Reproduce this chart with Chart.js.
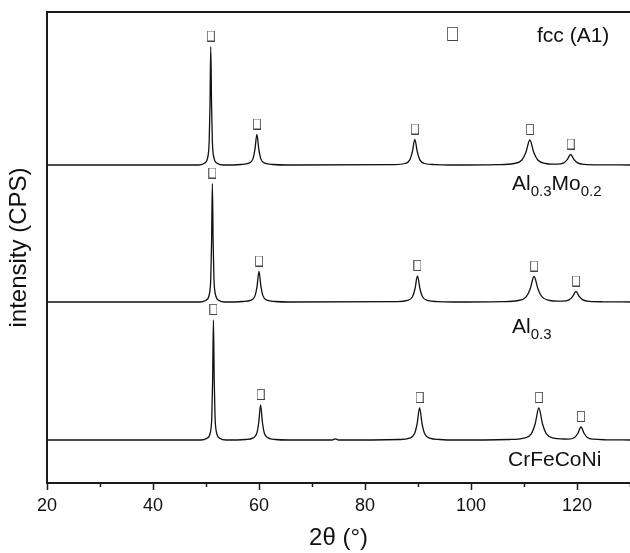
<!DOCTYPE html>
<html>
<head>
<meta charset="utf-8">
<script src="https://cdn.jsdelivr.net/npm/chart.js@4.4.1/dist/chart.umd.min.js"></script>
<style>
  html, body { margin: 0; padding: 0; background: #fff; }
  #wrap { width: 630px; height: 553px; }
</style>
</head>
<body>
<div id="wrap"><canvas id="xrd" width="630" height="553"></canvas></div>
<script>
// XRD patterns, [2θ (°), intensity above own baseline]
const patternMo = [
  [20,0],[48.5,0],[49.7,1.8],[50.3,7.1],[50.6,23.7],[50.75,59.3],[50.9,118.5],[51.05,59.3],[51.2,23.7],[51.5,7.1],[52.1,1.8],[53.3,0],
  [56.6,0.5],[58.1,1.8],[58.85,6.1],[59.225,15.3],[59.6,30.5],[59.975,15.3],[60.35,6.1],[61.1,1.8],[62.6,0.5],[65,0],
  [85.6,0.4],[87.5,1.5],[88.45,5.1],[88.925,12.8],[89.4,25.5],[89.875,12.8],[90.35,5.1],[91.3,1.5],[93.2,0.4],[96,0],
  [105.1,0.4],[108.1,1.5],[109.6,5],[110.35,12.5],[111.1,25],[111.85,12.5],[112.6,5],[114.1,1.5],[115.2,0.8],
  [116.2,0.8],[117.5,2.1],[118.15,5.3],[118.8,10.5],[119.45,5.3],[120.1,2.1],[121.4,0.6],[124,0.2],[130,0]
];
const patternAl = [
  [20,0],[48.8,0],[50,1.8],[50.6,7.1],[50.9,23.7],[51.05,59.3],[51.2,118.5],[51.35,59.3],[51.5,23.7],[51.8,7.1],[52.4,1.8],[53.6,0],
  [57,0.5],[58.5,1.8],[59.25,6.1],[59.625,15.3],[60,30.5],[60.375,15.3],[60.75,6.1],[61.5,1.8],[63,0.5],[65.5,0],
  [86.1,0.4],[88,1.6],[88.95,5.2],[89.425,13],[89.9,26],[90.375,13],[90.85,5.2],[91.8,1.6],[93.7,0.4],[96.5,0],
  [105.9,0.4],[108.9,1.5],[110.4,5.1],[111.15,12.8],[111.9,25.5],[112.65,12.8],[113.4,5.1],[114.9,1.5],[116.3,0.8],
  [117.2,0.8],[118.5,2.1],[119.15,5.3],[119.8,10.5],[120.45,5.3],[121.1,2.1],[122.4,0.6],[125,0.2],[130,0]
];
const patternNi = [
  [20,0],[49,0],[50.2,1.8],[50.8,7.2],[51.1,24],[51.25,60],[51.4,120],[51.55,60],[51.7,24],[52,7.2],[52.6,1.8],[53.8,0],
  [57.5,0.5],[58.9,2.1],[59.6,7],[59.95,17.5],[60.3,35],[60.65,17.5],[61,7],[61.7,2.1],[63.1,0.5],[65.5,0],
  [73.8,0],[74.4,1.2],[75,0],
  [86.5,0.5],[88.4,1.9],[89.35,6.4],[89.825,16],[90.3,32],[90.775,16],[91.25,6.4],[92.2,1.9],[94.1,0.5],[97,0],
  [107.2,0.5],[110,1.9],[111.4,6.4],[112.1,16],[112.8,32],[113.5,16],[114.2,6.4],[115.6,1.9],[117.4,1],
  [118.35,0.9],[119.55,2.6],[120.15,6.5],[120.75,13],[121.35,6.5],[121.95,2.6],[123.15,0.8],[125.55,0.2],[130,0]
];

// fcc (A1) reflections marked on each pattern
const peaksMo = [50.9, 59.6, 89.4, 111.1, 118.8];
const peaksAl = [51.2, 60, 89.9, 111.9, 119.8];
const peaksNi = [51.4, 60.3, 90.3, 112.8, 120.75];

// vertical stacking of the three patterns (top -> bottom)
const patterns = [patternMo, patternAl, patternNi];
const peakSets = [peaksMo, peaksAl, peaksNi];
const stackOffset = [275, 138, 0];

const xTicksShown = [20, 40, 60, 80, 100, 120];
const FONT = "'Liberation Sans', Arial, Helvetica, sans-serif";
const MARK_GAP = 10.5;

// the little "tofu" square used as the fcc marker
function boxGlyph(w, h) {
  const c = document.createElement('canvas');
  c.width = w; c.height = h;
  const g = c.getContext('2d');
  g.strokeStyle = '#6a6a6a';
  g.lineWidth = 1;
  g.strokeRect(0.5, 0.5, w - 1, h - 1);
  g.fillStyle = '#444';
  g.fillRect(1, h - 1, w - 1, 1);
  return c;
}
const markGlyph = boxGlyph(8, 11);
const legendGlyph = boxGlyph(11, 14);

const lineSets = patterns.map((pat, i) => ({
  data: pat.map(p => ({ x: p[0], y: p[1] + stackOffset[i] })),
  borderColor: '#111',
  borderWidth: 1.3,
  pointRadius: 0,
  fill: false,
  cubicInterpolationMode: 'monotone'
}));

const markData = [];
peakSets.forEach((peaks, i) => {
  peaks.forEach(t => {
    const top = patterns[i].find(p => p[0] === t)[1];
    markData.push({ x: t, y: top + stackOffset[i] + MARK_GAP });
  });
});

const markSet = {
  label: 'fcc (A1)',
  data: markData,
  showLine: false,
  pointStyle: markGlyph,
  pointRadius: 5,
  borderWidth: 0
};

// sample names, drawn with subscripts
const sampleLabels = [
  [['Al', 0], ['0.3', 1], ['Mo', 0], ['0.2', 1]],
  [['Al', 0], ['0.3', 1]],
  [['CrFeCoNi', 0]]
];
const labelPos = [[512, 190], [512, 333], [508, 466]];

function drawFormula(ctx, parts, x, y) {
  parts.forEach(([txt, sub]) => {
    ctx.font = (sub ? '15px ' : '21px ') + FONT;
    ctx.fillText(txt, x, sub ? y + 6 : y);
    x += ctx.measureText(txt).width;
  });
}

const decor = {
  id: 'decor',
  afterDraw(chart) {
    const { ctx, chartArea: a, scales } = chart;
    ctx.save();
    // top frame
    ctx.strokeStyle = '#1a1a1a';
    ctx.lineWidth = 2;
    ctx.beginPath();
    ctx.moveTo(a.left - 1, a.top);
    ctx.lineTo(a.right, a.top);
    ctx.stroke();
    // minor ticks
    ctx.lineWidth = 1.5;
    scales.x.ticks.forEach(t => {
      if (t.value % 20 !== 0) {
        const px = Math.round(scales.x.getPixelForValue(t.value)) + 0.5;
        ctx.beginPath();
        ctx.moveTo(px, a.bottom);
        ctx.lineTo(px, a.bottom + 4);
        ctx.stroke();
      }
    });
    // legend
    ctx.drawImage(legendGlyph, 447, 27);
    ctx.fillStyle = '#111';
    ctx.textBaseline = 'alphabetic';
    ctx.textAlign = 'left';
    ctx.font = '21px ' + FONT;
    ctx.fillText('fcc (A1)', 537, 42);
    // sample names
    sampleLabels.forEach((parts, i) => drawFormula(ctx, parts, labelPos[i][0], labelPos[i][1]));
    ctx.restore();
  }
};

new Chart(document.getElementById('xrd'), {
  type: 'line',
  data: { datasets: [...lineSets, markSet] },
  options: {
    responsive: false,
    animation: false,
    devicePixelRatio: 1,
    // the frame runs off the right edge of the picture
    layout: { autoPadding: false, padding: { top: 12, left: 0, right: 0, bottom: 0 } },
    plugins: { legend: { display: false }, tooltip: { enabled: false } },
    scales: {
      x: {
        type: 'linear',
        min: 20,
        max: 130,
        afterFit(scale) {
          scale.height = 70;
          scale.paddingLeft = 0;
          scale.paddingRight = 0;
        },
        border: { display: true, width: 2, color: '#1a1a1a' },
        grid: {
          drawOnChartArea: false,
          tickLength: 7,
          tickWidth: 1.5,
          tickColor: ctx => (ctx.tick && ctx.tick.value % 20 === 0) ? '#1a1a1a' : 'rgba(0,0,0,0)'
        },
        ticks: {
          stepSize: 10,
          autoSkip: false,
          maxRotation: 0,
          padding: 5,
          color: '#111',
          font: { family: FONT, size: 18 },
          callback: v => xTicksShown.includes(v) ? String(v) : ''
        },
        title: {
          display: true,
          text: '2θ (°)',
          color: '#111',
          font: { family: FONT, size: 24 },
          padding: { top: 0, bottom: 0 }
        }
      },
      y: {
        type: 'linear',
        min: -43,
        max: 428,
        afterFit(scale) {
          scale.width = 47;
          scale.paddingTop = 0;
          scale.paddingBottom = 0;
        },
        border: { display: true, width: 2, color: '#1a1a1a' },
        grid: { drawOnChartArea: false, drawTicks: false },
        ticks: { display: false },
        title: {
          display: true,
          text: 'intensity (CPS)',
          color: '#111',
          font: { family: FONT, size: 24 },
          padding: { top: 5, bottom: 0 }
        }
      }
    }
  },
  plugins: [decor]
});
</script>
</body>
</html>
